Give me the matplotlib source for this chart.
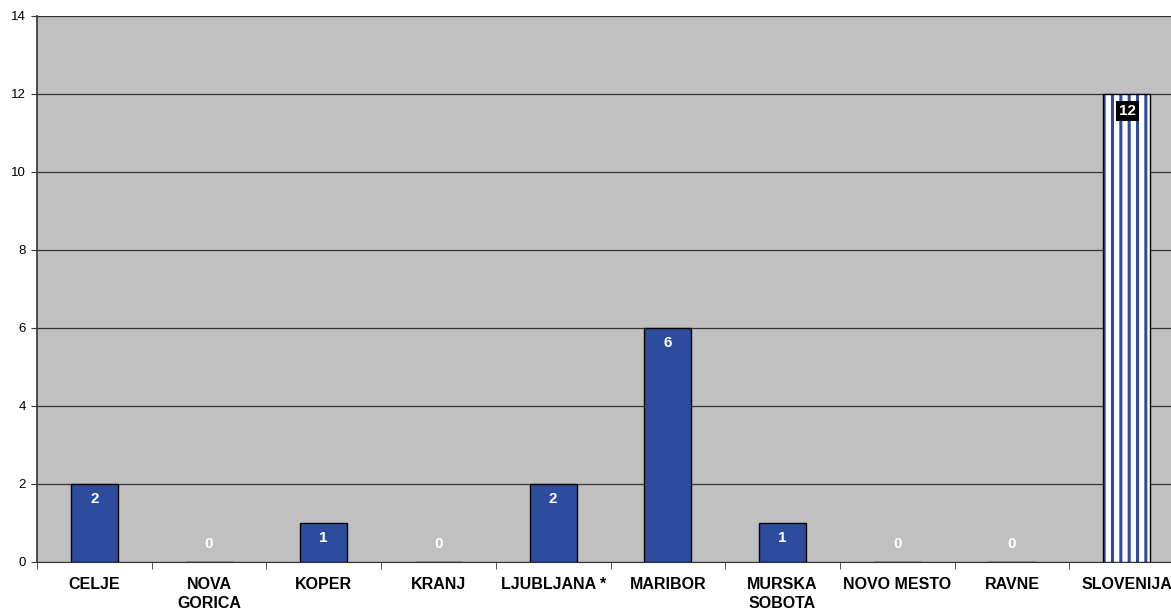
import matplotlib.pyplot as plt
import numpy as np

plt.rcParams["font.family"] = ["Liberation Sans", "DejaVu Sans"]
plt.rcParams["hatch.linewidth"] = 2.2

categories = ["CELJE", "NOVA\nGORICA", "KOPER", "KRANJ", "LJUBLJANA *",
              "MARIBOR", "MURSKA\nSOBOTA", "NOVO MESTO", "RAVNE", "SLOVENIJA"]
values = [2, 0, 1, 0, 2, 6, 1, 0, 0, 12]

BLUE = "#2E4C9E"

fig = plt.figure(figsize=(11.71, 6.12), dpi=100)
# plot area runs a bit past the right edge of the picture, like the original
ax = fig.add_axes([37 / 1171, 50 / 612, 1147 / 1171, 546 / 612])
ax.set_facecolor("#C0C0C0")

x = np.arange(len(categories))
n = len(values)
ax.bar(x[:-1], values[:-1], width=0.41, color=BLUE, edgecolor="black", linewidth=1, zorder=3)
# total bar: white with blue vertical stripes
ax.bar(x[-1:], values[-1:], width=0.41, color="white", edgecolor=BLUE, linewidth=0,
       hatch="||", zorder=3)
ax.bar(x[-1:], values[-1:], width=0.41, fill=False, edgecolor="black", linewidth=1, zorder=3.5)

for xi, v in zip(x, values):
    kw = dict(ha="center", va="center", color="white", fontsize=11,
              fontweight="bold", zorder=4, textcoords="offset pixels")
    if v == 0:
        ax.annotate(str(v), (xi, v), xytext=(0, 18), **kw)
    elif xi == n - 1:
        ax.annotate(str(v), (xi, v), xytext=(1, -17), **kw,
                    bbox=dict(boxstyle="square,pad=0.2", fc="black", ec="none"))
    else:
        ax.annotate(str(v), (xi, v), xytext=(0, -15), **kw)

ax.set_xlim(-0.5, n - 0.5)
ax.set_ylim(0, 14)
ax.set_yticks(range(0, 15, 2))
ax.yaxis.grid(True, color="#333333", linewidth=0.9, zorder=1)
ax.tick_params(axis="y", labelsize=9.5, length=4, color="#333333", pad=4)

ax.set_xticks(x)
ax.set_xticklabels(categories, fontsize=11.5, fontweight="bold", linespacing=1.3)
ax.set_xticks(np.arange(-0.5, n, 1), minor=True)
ax.tick_params(axis="x", which="major", length=0, pad=11)
ax.tick_params(axis="x", which="minor", length=5, color="#333333")

for s in ["top", "right"]:
    ax.spines[s].set_visible(False)
ax.spines["left"].set_color("#333333")
ax.spines["bottom"].set_color("#333333")
ax.spines["left"].set_linewidth(1.2)

fig.savefig("out.png", dpi=100)
